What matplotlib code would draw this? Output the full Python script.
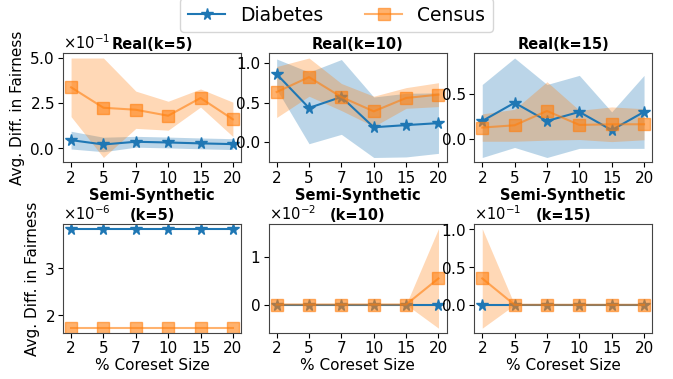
import matplotlib
matplotlib.use("Agg")
import matplotlib.pyplot as plt
import numpy as np

# Coreset sizes (percent), plotted as evenly spaced categories
coreset_sizes = ["2", "5", "7", "10", "15", "20"]

# Real data: mean and std of the fairness difference
real_k5_diabetes = [0.044, 0.020, 0.035, 0.031, 0.026, 0.022]
real_k5_diabetes_std = [0.049, 0.040, 0.030, 0.030, 0.030, 0.030]
real_k5_census = [0.336, 0.223, 0.212, 0.179, 0.277, 0.159]
real_k5_census_std = [0.162, 0.275, 0.103, 0.080, 0.050, 0.095]

real_k10_diabetes = [0.858, 0.433, 0.571, 0.190, 0.217, 0.242]
real_k10_diabetes_std = [0.190, 0.450, 0.470, 0.380, 0.400, 0.380]
real_k10_census = [0.633, 0.820, 0.570, 0.390, 0.558, 0.600]
real_k10_census_std = [0.320, 0.240, 0.170, 0.190, 0.130, 0.150]

real_k15_diabetes = [0.20, 0.40, 0.20, 0.30, 0.10, 0.30]
real_k15_diabetes_std = [0.40, 0.49, 0.40, 0.40, 0.20, 0.40]
real_k15_census = [0.128, 0.153, 0.310, 0.157, 0.164, 0.164]
real_k15_census_std = [0.150, 0.175, 0.320, 0.160, 0.190, 0.170]

# Semi-synthetic data
semi_k5_diabetes = [3.84e-6] * 6
semi_k5_diabetes_std = [0.0] * 6
semi_k5_census = [1.72e-6] * 6
semi_k5_census_std = [0.0] * 6

semi_k10_diabetes = [0.0] * 6
semi_k10_diabetes_std = [0.0] * 6
semi_k10_census = [0.0, 0.0, 0.0, 0.0, 0.0, 0.00546]
semi_k10_census_std = [0.0, 0.0, 0.0, 0.0, 0.0, 0.0104]

semi_k15_diabetes = [0.0] * 6
semi_k15_diabetes_std = [0.0] * 6
semi_k15_census = [0.035, 0.0, 0.0, 0.0, 0.0, 0.0]
semi_k15_census_std = [0.066, 0.0, 0.0, 0.0, 0.0, 0.0]

# (heading line, sub line, series...)
panels = [
    (None, "Real(k=5)", real_k5_diabetes, real_k5_diabetes_std, real_k5_census, real_k5_census_std, True),
    (None, "Real(k=10)", real_k10_diabetes, real_k10_diabetes_std, real_k10_census, real_k10_census_std, False),
    (None, "Real(k=15)", real_k15_diabetes, real_k15_diabetes_std, real_k15_census, real_k15_census_std, False),
    ("Semi-Synthetic", "(k=5)", semi_k5_diabetes, semi_k5_diabetes_std, semi_k5_census, semi_k5_census_std, True),
    ("Semi-Synthetic", "(k=10)", semi_k10_diabetes, semi_k10_diabetes_std, semi_k10_census, semi_k10_census_std, True),
    ("Semi-Synthetic", "(k=15)", semi_k15_diabetes, semi_k15_diabetes_std, semi_k15_census, semi_k15_census_std, True),
]

blue = "#1f77b4"
orange = "#ff7f0e"
fs = 11
title_fs = 10.5

fig, axes = plt.subplots(2, 3, figsize=(6.73, 3.79), dpi=100)
fig.subplots_adjust(left=0.0936, right=0.969, top=0.860, bottom=0.121,
                    hspace=0.56, wspace=0.155)

x = np.arange(len(coreset_sizes))
for ax, (head, title, d, d_std, c, c_std, sci) in zip(axes.flat, panels):
    d = np.array(d); d_std = np.array(d_std)
    c = np.array(c); c_std = np.array(c_std)
    ax.plot(x, d, color=blue, marker="*", markersize=8.5, linewidth=1.5, label="Diabetes")
    ax.fill_between(x, d - d_std, d + d_std, color=blue, alpha=0.3, linewidth=0)
    ax.plot(x, c, color=orange, marker="s", markersize=8.5, linewidth=1.5, alpha=0.6, label="Census")
    ax.fill_between(x, c - c_std, c + c_std, color=orange, alpha=0.3, linewidth=0)
    ax.set_xticks(x)
    ax.set_xticklabels(coreset_sizes)
    ax.tick_params(labelsize=fs, pad=2.5)
    # fixed title position so it sits next to the offset text instead of above it
    ax.set_title(title, fontsize=title_fs, fontweight="bold", pad=3, y=1.0)
    if head is not None:
        ax.annotate(head, xy=(0.5, 1.0), xycoords="axes fraction",
                    xytext=(0, 17), textcoords="offset points",
                    ha="center", va="baseline", fontsize=title_fs, fontweight="bold")
    if sci:
        ax.ticklabel_format(axis="y", style="sci", scilimits=(0, 0), useMathText=True)
        ax.yaxis.get_offset_text().set_fontsize(10.5)
    for s in ax.spines.values():
        s.set_color("#444444")

for ax in axes[:, 0]:
    ax.set_ylabel("Avg. Diff. in Fairness", fontsize=fs, labelpad=3)
for ax in axes[1, :]:
    ax.set_xlabel("% Coreset Size", fontsize=fs, labelpad=1)

handles, labels = axes[0, 0].get_legend_handles_labels()
fig.legend(handles, labels, loc="upper center", bbox_to_anchor=(0.5, 1.03), ncol=2,
           fontsize=13.5, frameon=True, columnspacing=2.2)

fig.savefig("out.png", dpi=100)
